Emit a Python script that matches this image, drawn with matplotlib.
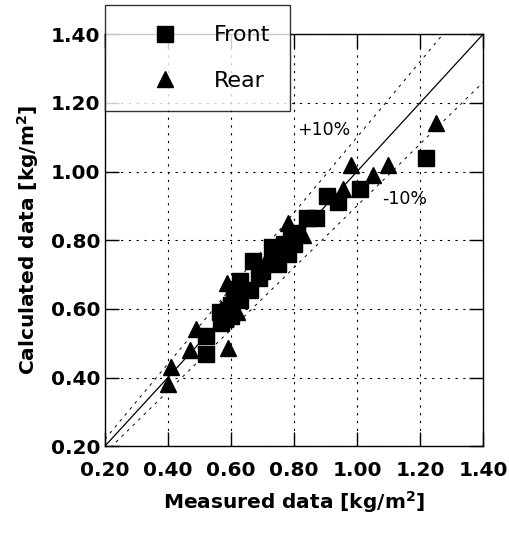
import numpy as np
import matplotlib
matplotlib.use('Agg')
import matplotlib.pyplot as plt

plt.rcParams['font.family'] = 'DejaVu Sans'
plt.rcParams['mathtext.default'] = 'bf'

# measured vs calculated [kg/m2]
front_measured = [0.52, 0.52, 0.57, 0.565, 0.58, 0.60, 0.60, 0.61, 0.63, 0.63,
                  0.66, 0.67, 0.69, 0.70, 0.73, 0.75, 0.77, 0.78, 0.79, 0.80,
                  0.81, 0.84, 0.87, 0.905, 0.94, 1.01, 1.22]
front_calc = [0.47, 0.52, 0.56, 0.59, 0.57, 0.61, 0.58, 0.64, 0.625, 0.68,
              0.655, 0.74, 0.69, 0.71, 0.78, 0.73, 0.79, 0.76, 0.80, 0.79,
              0.82, 0.865, 0.865, 0.93, 0.91, 0.95, 1.04]

rear_measured = [0.40, 0.41, 0.47, 0.49, 0.59, 0.57, 0.587, 0.60, 0.62, 0.72,
                 0.78, 0.83, 0.955, 0.98, 1.05, 1.10, 1.25]
rear_calc = [0.38, 0.43, 0.48, 0.54, 0.485, 0.60, 0.675, 0.63, 0.59, 0.76,
             0.85, 0.815, 0.95, 1.02, 0.99, 1.02, 1.14]

ticks = [0.20, 0.40, 0.60, 0.80, 1.00, 1.20, 1.40]

fig = plt.figure(figsize=(5.09, 5.35), dpi=100)
ax = fig.add_axes([0.206, 0.166, 0.743, 0.770])

line = np.array([0.2, 1.4])
ax.plot(line, line, color='black', lw=0.9, zorder=2)
ax.plot(line, line * 1.1, color='black', lw=0.7, ls=(0, (3, 5)), zorder=2)
ax.plot(line, line * 0.9, color='black', lw=0.7, ls=(0, (3, 5)), zorder=2)

ax.plot(front_measured, front_calc, 's', color='black', ms=11.5, label='Front', zorder=3)
ax.plot(rear_measured, rear_calc, '^', color='black', ms=11, label='Rear', zorder=3)

ax.text(0.81, 1.12, '+10%', fontsize=12.5, va='center')
ax.text(1.08, 0.92, '-10%', fontsize=12.5, va='center')

ax.set_xlim(0.2, 1.4)
ax.set_ylim(0.2, 1.4)
ax.set_xticks(ticks)
ax.set_yticks(ticks)
ax.set_xticklabels(['%.2f' % t for t in ticks], fontweight='bold', fontsize=14.5)
ax.set_yticklabels(['%.2f' % t for t in ticks], fontweight='bold', fontsize=14.5)
ax.tick_params(direction='in', length=10, width=1, top=True, right=True)
ax.tick_params(axis='x', pad=11)
ax.tick_params(axis='y', pad=3)
ax.grid(True, color='black', lw=0.8, ls=(0, (2, 5)))
for s in ax.spines.values():
    s.set_linewidth(1.0)

ax.set_xlabel('Measured data [kg/m$^{2}$]', fontweight='bold', fontsize=14.5, labelpad=6)
ax.set_ylabel('Calculated data [kg/m$^{2}$]', fontweight='bold', fontsize=14.5, labelpad=7)

leg = ax.legend(loc='upper left', bbox_to_anchor=(0, 1.07), borderaxespad=0,
                fontsize=16, frameon=True, fancybox=False, borderpad=0.9,
                handlelength=3.6, handletextpad=0.4, labelspacing=1.15)
leg.get_frame().set_edgecolor('black')
leg.get_frame().set_linewidth(1.0)
leg.set_zorder(5)

fig.savefig('out.png', dpi=100)
